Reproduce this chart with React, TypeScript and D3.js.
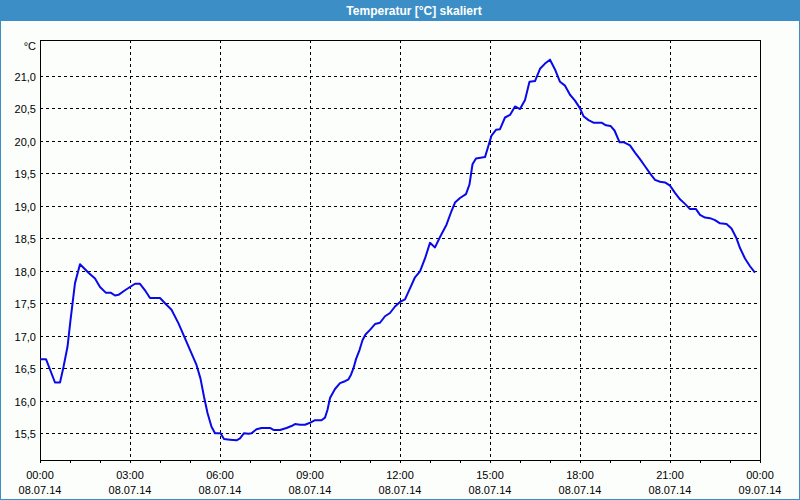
import React from "react";
import * as d3 from "d3";

// time in minutes after 08.07.14 00:00
const minutes = [
  0, 12, 30, 40, 47, 55, 61, 70, 80, 97, 110, 120, 132, 142, 150, 157, 170, 180, 190, 200,
  210, 220, 240, 250, 263, 277, 290, 303, 313, 321, 328, 335, 343, 350, 361, 368, 380, 393, 400, 408,
  417, 423, 433, 443, 460, 467, 480, 493, 503, 510, 520, 530, 540, 550, 563, 570, 575, 580, 590, 600,
  610, 617, 622, 627, 632, 639, 645, 651, 660, 670, 680, 690, 700, 710, 720, 730, 740, 750, 760, 770,
  780, 790, 800, 813, 823, 830, 840, 852, 859, 865, 872, 890, 897, 903, 912, 920, 930, 940, 950, 960,
  970, 979, 990, 1000, 1010, 1020, 1030, 1040, 1050, 1060, 1070, 1080, 1087, 1097, 1107, 1123, 1132, 1141, 1149, 1159,
  1167, 1180, 1190, 1200, 1210, 1220, 1230, 1240, 1250, 1260, 1270, 1280, 1290, 1300, 1312, 1320, 1330, 1340, 1350, 1360,
  1373, 1383, 1393, 1400, 1410, 1420, 1430,
];
const temps = [
  16.64, 16.64, 16.28, 16.28, 16.52, 16.83, 17.24, 17.81, 18.1, 17.97, 17.88, 17.75, 17.66, 17.66, 17.62, 17.63, 17.7, 17.75, 17.8, 17.8,
  17.7, 17.58, 17.58, 17.5, 17.4, 17.19, 16.96, 16.73, 16.55, 16.34, 16.06, 15.81, 15.6, 15.5, 15.5, 15.41, 15.4, 15.39, 15.42, 15.5,
  15.49, 15.5, 15.56, 15.58, 15.58, 15.55, 15.55, 15.58, 15.61, 15.64, 15.63, 15.63, 15.66, 15.7, 15.7, 15.74, 15.86, 16.04, 16.18, 16.27,
  16.3, 16.33, 16.4, 16.5, 16.64, 16.78, 16.93, 17.02, 17.09, 17.18, 17.2, 17.3, 17.35, 17.45, 17.52, 17.56, 17.73, 17.9, 17.99, 18.19,
  18.43, 18.36, 18.52, 18.71, 18.92, 19.05, 19.12, 19.18, 19.33, 19.64, 19.73, 19.75, 19.93, 20.08, 20.17, 20.18, 20.36, 20.4, 20.53, 20.49,
  20.63, 20.91, 20.92, 21.11, 21.19, 21.25, 21.1, 20.91, 20.85, 20.71, 20.62, 20.5, 20.38, 20.32, 20.28, 20.28, 20.24, 20.23, 20.16, 19.98,
  19.98, 19.93, 19.82, 19.72, 19.61, 19.5, 19.4, 19.37, 19.36, 19.31, 19.2, 19.1, 19.03, 18.95, 18.95, 18.86, 18.82, 18.81, 18.78, 18.73,
  18.72, 18.65, 18.5, 18.35, 18.19, 18.07, 17.97,
];

const yTicks = [15.5, 16.0, 16.5, 17.0, 17.5, 18.0, 18.5, 19.0, 19.5, 20.0, 20.5, 21.0];
const xTickMinutes = [0, 180, 360, 540, 720, 900, 1080, 1260, 1440];
const xTimeLabels = ["00:00", "03:00", "06:00", "09:00", "12:00", "15:00", "18:00", "21:00", "00:00"];
const xDateLabels = ["08.07.14", "08.07.14", "08.07.14", "08.07.14", "08.07.14", "08.07.14", "08.07.14", "08.07.14", "09.07.14"];
const minorTickMinutes = d3.range(0, 1441, 60);

const title = "Temperatur [°C] skaliert";
const unit = "°C";

const W = 800;
const H = 500;
const L = 40, R = 760, T = 40, B = 460;
const BLUE = "#3c8fc6";
const FONT = "'Liberation Sans', Arial, sans-serif";

export default function App() {
  const x = d3.scaleLinear().domain([0, 1440]).range([L, R]);
  const y = d3.scaleLinear().domain([15.087, 21.553]).range([B, T]);
  const px = (v: number) => Math.round(v) + 0.5;
  const data = minutes.map((m, i) => [m, temps[i]] as [number, number]);
  const line = d3
    .line<[number, number]>()
    .x((d) => x(d[0]))
    .y((d) => y(d[1]));

  return (
    <svg
      width={W}
      height={H}
      style={{ position: "fixed", left: 0, top: 0, display: "block" }}
      fontFamily={FONT}
    >
      <rect x={0} y={0} width={W} height={H} fill="#fcfefc" />
      <rect x={0} y={0} width={W} height={21} fill={BLUE} />
      <rect x={0.5} y={0.5} width={W - 1} height={H - 1} fill="none" stroke={BLUE} strokeWidth={1} />
      <text x={414} y={15} fill="#ffffff" fontSize={12} fontWeight="bold" textAnchor="middle">
        {title}
      </text>

      {/* grid */}
      <g stroke="#000" strokeWidth={1} strokeDasharray="3,3" shapeRendering="crispEdges">
        {yTicks.map((t) => (
          <line key={"h" + t} x1={L} x2={R} y1={px(y(t))} y2={px(y(t))} />
        ))}
        {xTickMinutes.slice(1, -1).map((m) => (
          <line key={"v" + m} x1={px(x(m))} x2={px(x(m))} y1={T} y2={B} />
        ))}
      </g>

      {/* minor ticks */}
      <g stroke="#000" strokeWidth={1} shapeRendering="crispEdges">
        {minorTickMinutes.map((m) => (
          <line key={"t" + m} x1={px(x(m))} x2={px(x(m))} y1={B} y2={B + 3} />
        ))}
      </g>

      {/* frame */}
      <rect
        x={L + 0.5}
        y={T + 0.5}
        width={R - L}
        height={B - T}
        fill="none"
        stroke="#000"
        strokeWidth={1}
        shapeRendering="crispEdges"
      />

      {/* y labels */}
      <g fontSize={11} fill="#000" textAnchor="end">
        {yTicks.map((t) => (
          <text key={"yl" + t} x={36} y={px(y(t)) + 4}>
            {t.toFixed(1).replace(".", ",")}
          </text>
        ))}
        <text x={36} y={50}>
          {unit}
        </text>
      </g>

      {/* x labels */}
      <g fontSize={11} fill="#000" textAnchor="middle">
        {xTickMinutes.map((m, i) => (
          <g key={"xl" + m}>
            <text x={x(m)} y={479}>
              {xTimeLabels[i]}
            </text>
            <text x={x(m)} y={494}>
              {xDateLabels[i]}
            </text>
          </g>
        ))}
      </g>

      <path d={line(data) || ""} fill="none" stroke="#0a0ae8" strokeWidth={2} strokeLinejoin="round" />
    </svg>
  );
}
